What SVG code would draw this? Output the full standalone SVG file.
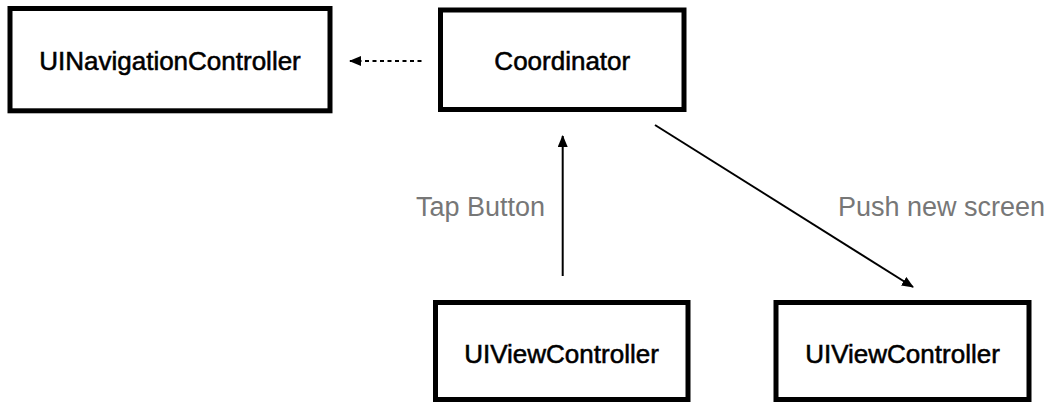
<svg xmlns="http://www.w3.org/2000/svg" width="1051" height="403" viewBox="0 0 1051 403">
  <style>
    .box { fill: #ffffff; stroke: #000000; stroke-width: 5; }
    .label { font-family: "Liberation Sans", Arial, Helvetica, sans-serif; font-size: 26px; fill: #000000; stroke: #000000; stroke-width: 0.55; text-anchor: middle; }
    .note { font-family: "Liberation Sans", Arial, Helvetica, sans-serif; font-size: 27px; fill: #777777; }
    .edge { fill: none; stroke: #000000; stroke-width: 2; }
    .dashed { stroke-dasharray: 4 3.5; }
  </style>
  <defs>
    <marker id="arrow" markerUnits="userSpaceOnUse" markerWidth="12" markerHeight="10" viewBox="0 0 12 10" refX="11" refY="5" orient="auto">
      <path d="M0,0 L12,5 L0,10 Z" fill="#000000"/>
    </marker>
  </defs>

  <rect width="1051" height="403" fill="#ffffff"/>

  <g id="connectors">
    <line class="edge dashed" x1="421.5" y1="61" x2="350" y2="61" marker-end="url(#arrow)"/>
    <line class="edge" x1="562.7" y1="276" x2="562.7" y2="136" stroke-width="1.8" marker-end="url(#arrow)"/>
    <line class="edge" x1="655" y1="125" x2="913" y2="287" marker-end="url(#arrow)"/>
    <text class="note" x="416" y="216">Tap Button</text>
    <text class="note" x="838" y="216">Push new screen</text>
  </g>

  <g id="navigation-controller">
    <rect class="box" x="10" y="8.5" width="320" height="102.3"/>
    <text class="label" x="170" y="70">UINavigationController</text>
  </g>

  <g id="coordinator">
    <rect class="box" x="440.5" y="10" width="243.5" height="99.5"/>
    <text class="label" x="562.3" y="70">Coordinator</text>
  </g>

  <g id="view-controller-a">
    <rect class="box" x="435.5" y="302.5" width="252.5" height="97"/>
    <text class="label" x="561.5" y="363.3">UIViewController</text>
  </g>

  <g id="view-controller-b">
    <rect class="box" x="776" y="302.5" width="253" height="97"/>
    <text class="label" x="902.5" y="363.3">UIViewController</text>
  </g>
</svg>
